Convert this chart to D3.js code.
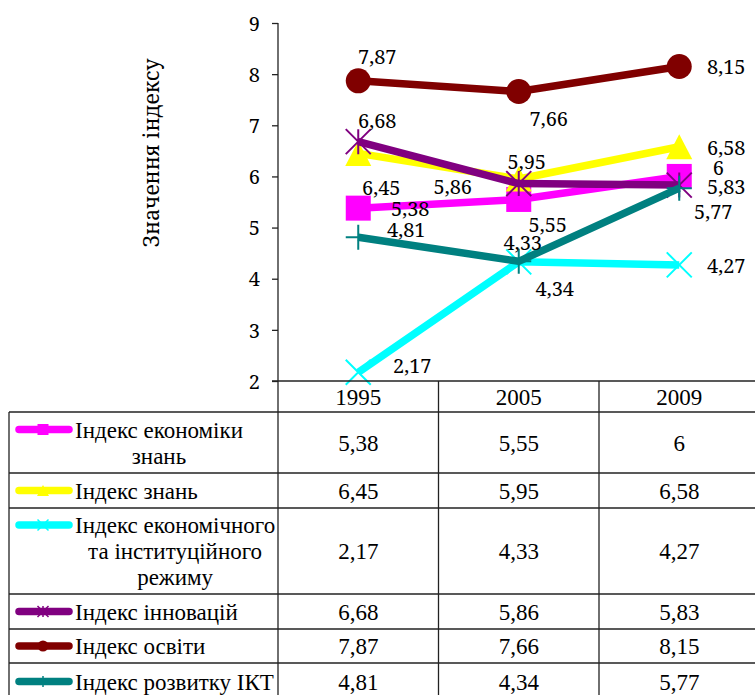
<!DOCTYPE html>
<html>
<head>
<meta charset="utf-8">
<script src="https://cdn.jsdelivr.net/npm/d3@7"></script>
<style>
  body { margin: 0; background: #fff; }
  svg { display: block; }
  .lbl { font-family: 'Noto Serif', 'DejaVu Serif', serif; font-size: 20px; }
  .ttl { font-family: 'Noto Serif', 'DejaVu Serif', serif; font-size: 21px; }
  .tbl { font-family: 'Liberation Serif', 'Times New Roman', serif; font-size: 23px; }
</style>
</head>
<body>
<div id="chart"></div>
<script>
// chart values
var years = ["1995", "2005", "2009"];
var seriesNames = [
  ["Індекс економіки", "знань"],
  ["Індекс знань"],
  ["Індекс економічного", "та інституційного", "режиму"],
  ["Індекс інновацій"],
  ["Індекс освіти"],
  ["Індекс розвитку ІКТ"]
];
var ekonomikaZnan = [5.38, 5.55, 6];
var znan = [6.45, 5.95, 6.58];
var rezhym = [2.17, 4.33, 4.27];
var innovatsii = [6.68, 5.86, 5.83];
var osvita = [7.87, 7.66, 8.15];
var ikt = [4.81, 4.34, 5.77];
var yTicks = [2, 3, 4, 5, 6, 7, 8, 9];
var yTitle = "Значення індексу";

var seriesValues = [ekonomikaZnan, znan, rezhym, innovatsii, osvita, ikt];

// look of each series
var colors = ["#FF00FF", "#FFFF00", "#00FFFF", "#800080", "#800000", "#008080"];
var markers = ["square", "triangle", "x", "star", "circle", "plus"];
// label offsets (dx, dy) from the point, label centre
var labelOffsets = [
  [[52, 1], [29, 25], [39, -9]],
  [[23, 34], [8, -17], [47, 1]],
  [[54, -7], [4, -19], [47, 1]],
  [[19, -21], [-66, 3], [47, 2]],
  [[19, -24], [30, 27], [47, 0]],
  [[48, -7], [36, 27], [34, 24]]
];

var W = 755, H = 695;
var svg = d3.select("#chart").append("svg")
  .attr("width", W)
  .attr("height", H);

var x = d3.scaleBand().domain(years).range([278, 759.5]).padding(0);
var xc = function(d) { return x(d) + x.bandwidth() / 2; };
var y = d3.scaleLinear().domain([2, 9]).range([381, 23]);

var fmt = function(v) { return String(v).replace(".", ","); };

// y axis
var yAxis = svg.append("g")
  .attr("transform", "translate(278,0)")
  .call(d3.axisLeft(y).tickValues(yTicks).tickSize(6).tickPadding(12).tickFormat(d3.format("d")));
yAxis.attr("font-family", null).attr("font-size", null);
yAxis.select(".domain").attr("stroke", "#222").attr("stroke-width", 1.3).attr("d", "M0,23V381");
yAxis.selectAll(".tick line").attr("stroke", "#222").attr("stroke-width", 1.3);
yAxis.selectAll(".tick text")
  .attr("class", "lbl")
  .attr("fill", "#000")
  .attr("dy", "0.36em");

svg.append("text")
  .attr("class", "ttl")
  .attr("transform", "translate(159,153) rotate(-90)")
  .attr("text-anchor", "middle")
  .text(yTitle);

// marker shapes
function markerPath(type, s) {
  var h = s / 2;
  if (type === "square") return "M" + (-h) + "," + (-h) + "h" + s + "v" + s + "h" + (-s) + "Z";
  if (type === "triangle") return "M0," + (-h) + "L" + (h + 0.5) + "," + h + "L" + (-h - 0.5) + "," + h + "Z";
  if (type === "x") return "M" + (-h) + "," + (-h) + "L" + h + "," + h + "M" + (-h) + "," + h + "L" + h + "," + (-h);
  if (type === "star") return "M" + (-h) + "," + (-h) + "L" + h + "," + h + "M" + (-h) + "," + h + "L" + h + "," + (-h) + "M0," + (-h) + "V" + h;
  if (type === "plus") return "M" + (-h) + ",0H" + h + "M0," + (-h) + "V" + h;
  return null;
}

function drawMarker(g, type, color, cx, cy, s, thin) {
  if (type === "circle") {
    g.append("circle").attr("cx", cx).attr("cy", cy).attr("r", s / 2).attr("fill", color);
  } else if (type === "square" || type === "triangle") {
    g.append("path").attr("transform", "translate(" + cx + "," + cy + ")")
      .attr("d", markerPath(type, s)).attr("fill", color);
  } else {
    g.append("path").attr("transform", "translate(" + cx + "," + cy + ")")
      .attr("d", markerPath(type, s)).attr("fill", "none")
      .attr("stroke", color).attr("stroke-width", thin);
  }
}

var line = d3.line()
  .x(function(d, i) { return xc(years[i]); })
  .y(function(d) { return y(d); });

var plot = svg.append("g");
seriesValues.forEach(function(vals, si) {
  var g = plot.append("g");
  g.append("path")
    .attr("d", line(vals))
    .attr("fill", "none")
    .attr("stroke", colors[si])
    .attr("stroke-width", 7.5)
    .attr("stroke-linejoin", "round");
  vals.forEach(function(v, i) {
    drawMarker(g, markers[si], colors[si], xc(years[i]), y(v), 25, 2);
  });
});

// data labels
seriesValues.forEach(function(vals, si) {
  vals.forEach(function(v, i) {
    svg.append("text")
      .attr("class", "lbl")
      .attr("x", xc(years[i]) + labelOffsets[si][i][0])
      .attr("y", y(v) + labelOffsets[si][i][1])
      .attr("dy", "0.36em")
      .attr("text-anchor", "middle")
      .text(fmt(v));
  });
});

// data table
var rowEdges = [381, 412, 473, 508, 594, 629, 663, 700];
var tbl = svg.append("g")
  .attr("stroke", "#222")
  .attr("stroke-width", 1.3);
tbl.append("line").attr("x1", 272).attr("x2", W).attr("y1", rowEdges[0]).attr("y2", rowEdges[0]);
rowEdges.slice(1, -1).forEach(function(ry) {
  tbl.append("line").attr("x1", 9).attr("x2", W).attr("y1", ry).attr("y2", ry);
});
tbl.append("line").attr("x1", 9).attr("x2", 9).attr("y1", rowEdges[1]).attr("y2", H);
years.forEach(function(yr) {
  tbl.append("line").attr("x1", x(yr)).attr("x2", x(yr)).attr("y1", rowEdges[0]).attr("y2", H);
});

years.forEach(function(yr) {
  svg.append("text")
    .attr("class", "tbl")
    .attr("x", xc(yr)).attr("y", (rowEdges[0] + rowEdges[1]) / 2)
    .attr("dy", "0.35em").attr("text-anchor", "middle")
    .text(yr);
});

seriesValues.forEach(function(vals, si) {
  var top = rowEdges[si + 1], bot = rowEdges[si + 2];
  var mid = (top + bot) / 2;
  var lines = seriesNames[si];
  var lh = 26;
  var firstY = mid - (lines.length - 1) * lh / 2;

  // legend key
  var kg = svg.append("g");
  kg.append("line")
    .attr("x1", 19).attr("x2", 69).attr("y1", firstY).attr("y2", firstY)
    .attr("stroke", colors[si]).attr("stroke-width", 7.5).attr("stroke-linecap", "round");
  drawMarker(kg, markers[si], colors[si], 43, firstY, 11, 1.5);

  // name, lines centred on the widest one
  var tg = svg.append("g");
  var texts = lines.map(function(t, li) {
    return tg.append("text")
      .attr("class", "tbl")
      .attr("y", firstY + li * lh)
      .attr("dy", "0.35em")
      .text(t);
  });
  var widths = texts.map(function(t) { return t.node().getComputedTextLength(); });
  var maxW = d3.max(widths);
  texts.forEach(function(t, li) {
    t.attr("x", 75 + (maxW - widths[li]) / 2);
  });

  vals.forEach(function(v, i) {
    svg.append("text")
      .attr("class", "tbl")
      .attr("x", xc(years[i])).attr("y", mid)
      .attr("dy", "0.35em").attr("text-anchor", "middle")
      .text(fmt(v));
  });
});
</script>
</body>
</html>
